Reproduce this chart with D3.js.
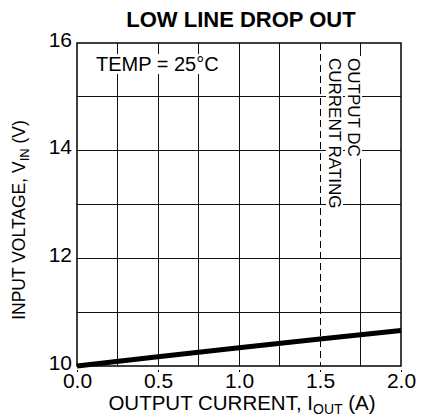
<!DOCTYPE html>
<html>
<head>
<meta charset="utf-8">
<script src="https://cdn.jsdelivr.net/npm/d3@7"></script>
<style>
  body { margin: 0; background: #fff; }
  svg text { font-family: "Liberation Sans", Arial, sans-serif; fill: #000; }
</style>
</head>
<body>
<svg id="chart" width="421" height="418"></svg>
<script>
// values
var currentA = [0.0, 0.5, 1.0, 1.5, 2.0];
var inputV = [10.0, 10.17, 10.34, 10.5, 10.66];
var xTicks = [0.0, 0.5, 1.0, 1.5, 2.0];
var yTicks = [10, 12, 14, 16];
var xGrid = [0.25, 0.5, 0.75, 1.0, 1.25, 1.75];
var yGrid = [11, 12, 13, 14, 15];
var ratingA = 1.5;

var svg = d3.select("#chart");
var plotL = 77, plotR = 401, plotT = 43, plotB = 366;

var x = d3.scaleLinear().domain([0, 2]).range([plotL, plotR]);
var y = d3.scaleLinear().domain([10, 16]).range([plotB, plotT]);

// grid
svg.append("g").selectAll("line").data(xGrid).enter().append("line")
  .attr("x1", function(d) { return x(d); }).attr("x2", function(d) { return x(d); })
  .attr("y1", plotT).attr("y2", plotB)
  .attr("stroke", "#111").attr("stroke-width", 1).attr("shape-rendering", "crispEdges");
svg.append("g").selectAll("line").data(yGrid).enter().append("line")
  .attr("x1", plotL).attr("x2", plotR)
  .attr("y1", function(d) { return y(d); }).attr("y2", function(d) { return y(d); })
  .attr("stroke", "#111").attr("stroke-width", 1).attr("shape-rendering", "crispEdges");

// rating line (dashed)
svg.append("line")
  .attr("x1", x(ratingA) + 0.5).attr("x2", x(ratingA) + 0.5)
  .attr("y1", plotT).attr("y2", plotB)
  .attr("stroke", "#000").attr("stroke-width", 1)
  .attr("stroke-dasharray", "7,4").attr("shape-rendering", "crispEdges");

// text labels with white backing
function boxedText(lines, opts) {
  var grp = svg.append("g").attr("transform", opts.transform);
  lines.forEach(function(s, i) {
    var t = grp.append("text").attr("x", 0).attr("y", i * opts.lh)
      .attr("font-size", opts.size).text(s);
    var b = t.node().getBBox();
    grp.insert("rect", "text")
      .attr("x", b.x - 2).attr("y", b.y + 1).attr("width", b.width + 4).attr("height", b.height - 2)
      .attr("fill", "#fff");
  });
}

boxedText(["TEMP = 25\u00B0C"], { transform: "translate(96,71)", size: 20, lh: 0 });
boxedText(["OUTPUT DC", "CURRENT RATING"],
  { transform: "translate(348,58) rotate(90)", size: 17, lh: 19 });

// frame
svg.append("rect").attr("x", plotL).attr("y", plotT)
  .attr("width", plotR - plotL).attr("height", plotB - plotT)
  .attr("fill", "none").attr("stroke", "#000").attr("stroke-width", 1.5);

// curve
var line = d3.line()
  .x(function(d, i) { return x(currentA[i]); })
  .y(function(d) { return y(d); });
svg.append("path").datum(inputV)
  .attr("d", line)
  .attr("fill", "none").attr("stroke", "#000").attr("stroke-width", 5);

// axes
var xAxis = d3.axisBottom(x).tickValues(xTicks).tickFormat(d3.format(".1f"))
  .tickSize(0);
var gx = svg.append("g").attr("transform", "translate(0," + plotB + ")").call(xAxis);
gx.select(".domain").remove();
gx.selectAll("text").attr("font-size", 21).attr("font-family", "Liberation Sans, Arial, sans-serif")
  .attr("dy", 0).attr("y", 22);
gx.selectAll(".tick").append("line")
  .attr("y1", 4).attr("y2", 6).attr("stroke", "#000").attr("stroke-width", 1);

var yAxis = d3.axisLeft(y).tickValues(yTicks).tickFormat(d3.format("d"))
  .tickSize(0).tickPadding(5);
var gy = svg.append("g").attr("transform", "translate(" + plotL + ",0)").call(yAxis);
gy.select(".domain").remove();
gy.selectAll("text").attr("font-size", 21).attr("font-family", "Liberation Sans, Arial, sans-serif")
  .attr("dy", 3);

// title
svg.append("text").attr("x", 241).attr("y", 27).attr("text-anchor", "middle")
  .attr("font-size", 22).attr("font-weight", "bold").text("LOW LINE DROP OUT");

// x axis title
var xt = svg.append("text").attr("x", 242).attr("y", 410).attr("text-anchor", "middle")
  .attr("font-size", 20.5);
xt.append("tspan").text("OUTPUT CURRENT, I");
xt.append("tspan").attr("font-size", 14).attr("dy", 4).text("OUT");
xt.append("tspan").attr("dy", -4).text(" (A)");

// y axis title
var yt = svg.append("text").attr("transform", "translate(25,220) rotate(-90)")
  .attr("text-anchor", "middle").attr("font-size", 17.5);
yt.append("tspan").text("INPUT VOLTAGE, V");
yt.append("tspan").attr("font-size", 13).attr("dy", 4).text("IN");
yt.append("tspan").attr("dy", -4).text(" (V)");
</script>
</body>
</html>
